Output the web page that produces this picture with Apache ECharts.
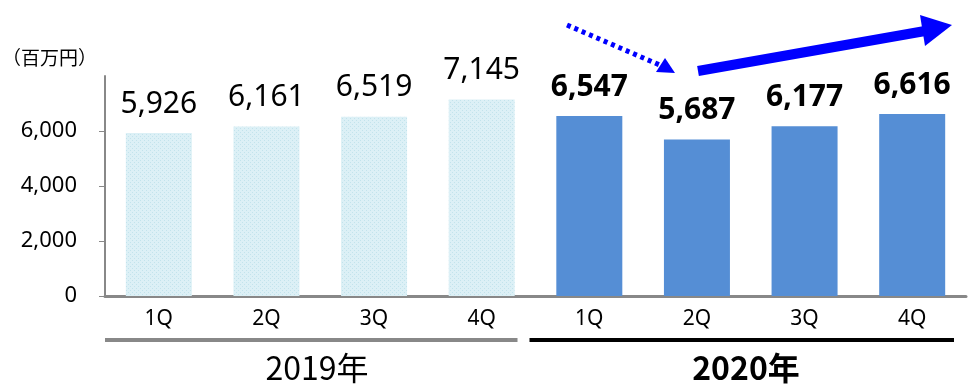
<!DOCTYPE html>
<html><head><meta charset="utf-8">
<script src="https://cdn.jsdelivr.net/npm/echarts@6/dist/echarts.min.js"></script>
<style>html,body{margin:0;padding:0;background:#fff}#c{width:968px;height:384px}</style>
</head><body><div id="c"></div>
<script>
const quarters = ['1Q','2Q','3Q','4Q','1Q','2Q','3Q','4Q'];
const years = ['2019年','2020年'];
const values2019 = [5926, 6161, 6519, 7145];
const values2020 = [6547, 5687, 6177, 6616];
const yTicks = [0, 2000, 4000, 6000];
const unitLabel = '（百万円）';

// dotted light pattern for 2019 bars
const pc = document.createElement('canvas');
pc.width = 4; pc.height = 4;
const px = pc.getContext('2d');
px.fillStyle = '#dcf0f6'; px.fillRect(0,0,4,4);
px.fillStyle = '#c2e3ec'; px.fillRect(0,0,1,1); px.fillRect(2,2,1,1);

const numFont = '"Noto Sans", "Noto Sans CJK JP", sans-serif';
const jpFont = '"Noto Sans CJK JP", sans-serif';

const data = [];
values2019.forEach(v => data.push({value: v, itemStyle: {color: {image: pc, repeat: 'repeat'}},
  label: {fontWeight: 'normal'}}));
values2020.forEach(v => data.push({value: v, itemStyle: {color: '#558ed5'},
  label: {fontWeight: 'bold'}}));

const chart = echarts.init(document.getElementById('c'));
const gridL = 105, gridR = 2, gridT = 76, gridB = 88;
const W = 968, H = 384;
const plotW = W - gridL - gridR;
const half = plotW / 2;
const brY = H - gridB + 44;

chart.setOption({
  animation: false,
  grid: {left: gridL, right: gridR, top: gridT, bottom: gridB, containLabel: false},
  xAxis: {
    type: 'category', data: quarters,
    axisLine: {lineStyle: {color: '#888', width: 3}},
    axisTick: {show: false},
    axisLabel: {color: '#000', fontSize: 21, fontFamily: numFont, margin: 13}
  },
  yAxis: {
    type: 'value', min: 0, max: 8000, interval: 2000,
    splitLine: {show: false},
    axisLine: {show: true, lineStyle: {color: '#888', width: 2}},
    axisTick: {show: true, length: 6, lineStyle: {color: '#888', width: 1}},
    axisLabel: {color: '#000', fontSize: 22, fontFamily: numFont, margin: 28,
      showMaxLabel: false,
      formatter: v => yTicks.includes(v) ? v.toLocaleString('en-US') : ''}
  },
  series: [{
    type: 'bar', data: data, barWidth: 66,
    label: {show: true, position: 'top', distance: 14, color: '#000', fontSize: 30,
      fontFamily: numFont, formatter: p => p.value.toLocaleString('en-US')}
  }],
  graphic: [
    {type: 'text', left: 2, top: 48, style: {text: unitLabel, fontSize: 19, fontFamily: jpFont, fill: '#000'}},
    {type: 'line', shape: {x1: gridL, y1: brY, x2: gridL + half - 18, y2: brY}, style: {stroke: '#888', lineWidth: 4}},
    {type: 'line', shape: {x1: gridL + half - 6, y1: brY, x2: W - 14, y2: brY}, style: {stroke: '#000', lineWidth: 4}},
    {type: 'text', x: 317, y: 368, style: {text: years[0], fontSize: 32, fontFamily: jpFont, fill: '#000', align: 'center', verticalAlign: 'middle'}},
    {type: 'text', x: 746, y: 368, style: {text: years[1], fontSize: 32, fontWeight: 'bold', fontFamily: jpFont, fill: '#000', align: 'center', verticalAlign: 'middle'}},
    // dotted arrow
    {type: 'line', shape: {x1: 567, y1: 25, x2: 662, y2: 66}, style: {stroke: '#0000ff', lineWidth: 5, lineDash: [4, 4]}},
    {type: 'polygon', shape: {points: [[675, 73], [656, 72], [665, 58]]}, style: {fill: '#0000ff'}},
    // solid arrow
    {type: 'line', shape: {x1: 698, y1: 71, x2: 925, y2: 31}, style: {stroke: '#0000ff', lineWidth: 10}},
    {type: 'polygon', shape: {points: [[952, 25], [920, 15], [925, 46]]}, style: {fill: '#0000ff'}}
  ]
});
</script></body></html>
